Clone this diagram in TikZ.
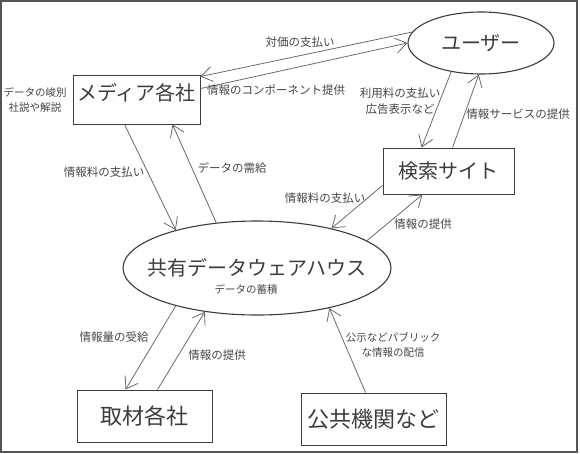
\documentclass[tikz,border=0pt]{standalone}
\usepackage{fontspec}
\setmainfont{Noto Sans CJK JP}
\usetikzlibrary{shapes.geometric,arrows.meta}
\definecolor{ink}{HTML}{3C3C3C}
\definecolor{lbl}{HTML}{454545}
\definecolor{conn}{HTML}{6A6A6A}
\definecolor{framecol}{HTML}{555555}
\begin{document}
\begin{tikzpicture}[x=1pt,y=-1pt,
  box/.style={draw=ink,line width=0.9pt,rectangle,inner sep=0pt,text=ink},
  oval/.style={draw=ink,line width=1.1pt,ellipse,inner sep=0pt},
  big/.style={text=ink,inner sep=0pt,font=\fontsize{20}{24}\selectfont},
  bigger/.style={text=ink,inner sep=0pt,font=\fontsize{22}{26}\selectfont},
  flow/.style={draw=conn,line width=0.8pt,-{Straight Barb[length=11pt,width=15pt]}},
  lab/.style={text=lbl,inner sep=0pt,align=center,font=\fontsize{11.5}{16}\selectfont},
  note/.style={text=lbl,inner sep=0pt,align=center,font=\fontsize{10.5}{15}\selectfont}]
\useasboundingbox (0,0) rectangle (580,453);
\node[draw=framecol,line width=1.4pt,minimum width=576pt,minimum height=451pt,inner sep=0pt] (frm) at (289,226.5) {};

% shapes
\node[box,minimum width=127pt,minimum height=49pt] (media) at (136.5,99.5) {};
\node[big] (mediaT) at (136.5,93) {メディア各社};
\node[oval,minimum width=146pt,minimum height=62pt] (user) at (481,43) {};
\node[big] (userT) at (user) {ユーザー};
\node[box,minimum width=131pt,minimum height=46pt,font=\fontsize{20}{24}\selectfont] (search) at (448.5,171) {検索サイト};
\node[oval,minimum width=268pt,minimum height=94pt] (wh) at (257,268) {};
\node[big] (whT) at (257,268) {共有データウェアハウス};
\node[box,minimum width=135pt,minimum height=52pt,font=\fontsize{22}{26}\selectfont] (shuzai) at (144.5,416) {取材各社};
\node[box,minimum width=145pt,minimum height=52pt,font=\fontsize{22}{26}\selectfont] (kokyo) at (373.5,419) {公共機関など};

% connectors
\draw[flow] (user.171) -- ([yshift=-2pt]media.north east);
\draw[flow] ([yshift=-14pt]media.north east) -- (user.180);
\draw[flow] (user.224) -- ([xshift=39pt]search.north west);
\draw[flow] ([xshift=70pt]search.north west) -- (user.266);
\draw[flow] ([xshift=52pt]media.south west) -- (wh.155);
\draw[flow] (wh.132) -- ([xshift=100pt]media.south west);
\draw[flow] ([yshift=9pt]search.south west) -- (wh.28);
\draw[flow] (wh.14) -- ([xshift=40pt]search.south west);
\draw[flow] (wh.205) -- ([xshift=49pt]shuzai.north west);
\draw[flow] ([xshift=81pt]shuzai.north west) -- (wh.220);
\draw[flow] ([xshift=65pt]kokyo.north west) -- (wh.331);

% labels
\node[lab] (l1) at (300,42) {対価の支払い};
\node[lab] (l2) at (276,90) {情報のコンポーネント提供};
\node[lab] (l3) at (400,101) {利用料の支払い\\広告表示など};
\node[lab] (l4) at (518,114) {情報サービスの提供};
\node[lab] (l5) at (104,172) {情報料の支払い};
\node[lab] (l6) at (232,168) {データの需給};
\node[lab] (l7) at (325,198) {情報料の支払い};
\node[lab] (l8) at (423,224) {情報の提供};
\node[lab] (l9) at (114,337) {情報量の受給};
\node[lab] (l10) at (217,355) {情報の提供};
\node[note] (l11) at (393,345) {公示などパブリック\\な情報の配信};
\node[note] (side) at (35,100) {データの峻別\\社説や解説};
\node[note] (acc) at (246,289) {データの蓄積};
\end{tikzpicture}
\end{document}
